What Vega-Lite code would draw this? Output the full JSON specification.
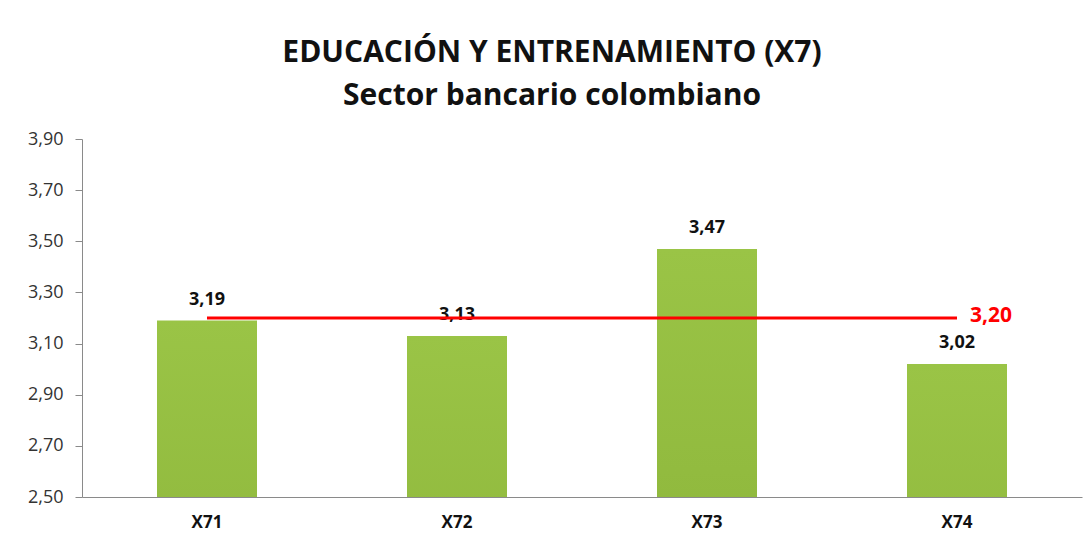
{
  "$schema": "https://vega.github.io/schema/vega-lite/v6.json",
  "width": 1000,
  "height": 358,
  "autosize": {"type": "none"},
  "padding": {"left": 82, "top": 139, "right": 10, "bottom": 47},
  "background": "white",
  "title": {
    "text": ["EDUCACIÓN Y ENTRENAMIENTO (X7)", "Sector bancario colombiano"],
    "anchor": "middle",
    "dx": -30,
    "font": "Open Sans",
    "fontSize": 30,
    "fontWeight": "bold",
    "color": "#111111",
    "lineHeight": 43,
    "offset": 19
  },
  "config": {
    "view": {"stroke": null},
    "locale": {"number": {"decimal": ",", "thousands": ".", "grouping": [3], "currency": ["", " €"]}},
    "axis": {"labelFont": "Open Sans", "titleFont": "Open Sans"}
  },
  "datasets": {
    "bars": [
      {"item": "X71", "value": 3.19},
      {"item": "X72", "value": 3.13},
      {"item": "X73", "value": 3.47},
      {"item": "X74", "value": 3.02}
    ],
    "mean": [
      {"item": "X71", "value": 3.20},
      {"item": "X74", "value": 3.20}
    ]
  },
  "layer": [
    {
      "data": {"name": "bars"},
      "mark": {
        "type": "bar",
        "clip": true,
        "color": {
          "gradient": "linear",
          "x1": 0, "y1": 0, "x2": 0, "y2": 1,
          "stops": [
            {"offset": 0, "color": "#9ac446"},
            {"offset": 0.5, "color": "#8ab238"},
            {"offset": 1, "color": "#76952a"}
          ]
        }
      },
      "encoding": {
        "x": {
          "field": "item", "type": "nominal",
          "scale": {"paddingInner": 0.6, "paddingOuter": 0.3},
          "axis": {
            "title": null, "labelAngle": 0, "ticks": false,
            "domainColor": "#8a8a8a", "domainWidth": 1,
            "labelFontSize": 17, "labelFontWeight": "bold", "labelColor": "#111111",
            "labelPadding": 17
          }
        },
        "y": {
          "field": "value", "type": "quantitative",
          "scale": {"domain": [2.5, 3.9], "zero": false, "nice": false},
          "axis": {
            "title": null, "values": [2.5, 2.7, 2.9, 3.1, 3.3, 3.5, 3.7, 3.9],
            "format": ".2f", "grid": false,
            "domainColor": "#8a8a8a", "tickColor": "#8a8a8a", "tickSize": 7,
            "labelFontSize": 18, "labelColor": "#333333", "labelPadding": 12
          }
        }
      }
    },
    {
      "data": {"name": "bars"},
      "mark": {"type": "text", "font": "Open Sans", "fontSize": 18, "fontWeight": "bold", "color": "#111111", "baseline": "bottom", "dy": -12},
      "encoding": {
        "x": {"field": "item", "type": "nominal"},
        "y": {"field": "value", "type": "quantitative"},
        "text": {"field": "value", "type": "quantitative", "format": ".2f"}
      }
    },
    {
      "data": {"name": "mean"},
      "mark": {"type": "line", "color": "#ff0000", "strokeWidth": 3},
      "encoding": {
        "x": {"field": "item", "type": "nominal"},
        "y": {"field": "value", "type": "quantitative"}
      }
    },
    {
      "data": {"name": "mean"},
      "transform": [{"filter": "datum.item === 'X74'"}],
      "mark": {"type": "text", "font": "Open Sans", "fontSize": 21, "fontWeight": "bold", "color": "#ff0000", "align": "left", "baseline": "middle", "dx": 13, "dy": -2},
      "encoding": {
        "x": {"field": "item", "type": "nominal"},
        "y": {"field": "value", "type": "quantitative"},
        "text": {"field": "value", "type": "quantitative", "format": ".2f"}
      }
    }
  ]
}
